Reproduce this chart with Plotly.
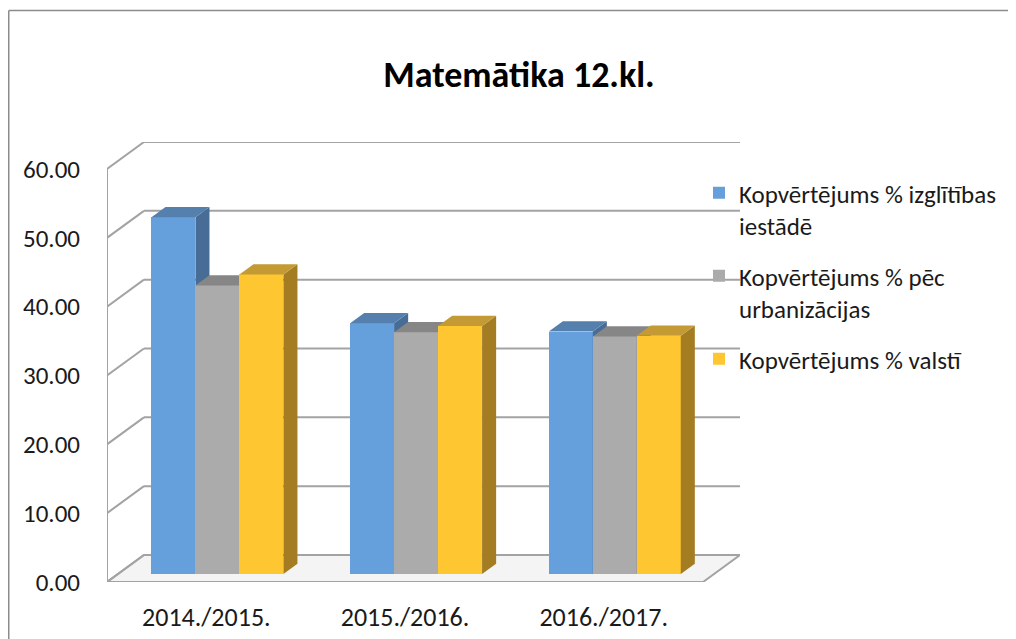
import plotly.graph_objects as go

# ---------------- data ----------------
categories = ["2014./2015.", "2015./2016.", "2016./2017."]
series_names = [
    "Kopvērtējums % izglītības<br>iestādē",
    "Kopvērtējums % pēc<br>urbanizācijas",
    "Kopvērtējums % valstī",
]
school = [51.8, 36.4, 35.2]
urban = [41.9, 35.1, 34.5]
country = [43.5, 36.0, 34.6]
y_ticks = [0, 10, 20, 30, 40, 50, 60]
title_text = "Matemātika 12.kl."

series_values = [school, urban, country]

# ---------------- styling / geometry ----------------
OFF = 8                       # page body margin
W, H = 1016 - OFF, 639 - OFF
ML, MT = 107 - OFF, 142 - OFF
PR, PB = 740 - OFF, 582 - OFF  # plot right / bottom in figure px
MR, MB = W - PR, H - PB
DX, DY = 0.186, 3.92          # full depth of the 3D box, in axis units
F0, F1 = 0.30, 0.38           # bar front-plane depth fraction, bar thickness fraction
BW = 0.2214                   # bar width (category units)
FONT = "Calibri, Carlito, Lato, sans-serif"
GRID = "#a3a3a3"

front_cols = ["#66a0dc", "#ababab", "#fec631"]
side_cols = ["#476d97", "#7b7b7b", "#a47c22"]
top_cols = ["#5580ae", "#868686", "#c49a35"]

n = len(categories)
x0, x1 = -0.5, n - 0.5
ymax = y_ticks[-1]
xr = [x0, x1 + DX]
yr = [0, ymax + DY]

fig = go.Figure()

# floor
fig.add_trace(go.Scatter(
    x=[x0, x1, x1 + DX, x0 + DX, x0], y=[0, 0, DY, DY, 0],
    mode="lines", fill="toself", fillcolor="#f4f4f4",
    line=dict(color=GRID, width=2), hoverinfo="skip", showlegend=False,
    xaxis="x", yaxis="y"))

# back wall gridlines + left wall gridlines + left front edge
gx, gy = [], []
for v in y_ticks:
    gx += [x0 + DX, x1 + DX, None]
    gy += [v + DY, v + DY, None]
    gx += [x0, x0 + DX, None]
    gy += [v, v + DY, None]
gx += [x0, x0]
gy += [0, ymax]
fig.add_trace(go.Scatter(
    x=gx, y=gy, mode="lines", line=dict(color=GRID, width=2),
    hoverinfo="skip", showlegend=False, xaxis="x", yaxis="y"))

# bars: each series on its own overlaid subplot so drawing order is left-to-right
shift_x = F0 * DX
base_y = F0 * DY
ddx, ddy = F1 * DX, F1 * DY
for k, (name, vals) in enumerate(zip(series_names, series_values)):
    ax = f"x{k + 2}"
    ay = f"y{k + 2}"
    xs = [i + shift_x + (k - 1) * BW for i in range(n)]
    fig.add_trace(go.Bar(
        x=xs, y=vals, base=[base_y] * n, width=BW, name=name,
        marker=dict(color=front_cols[k], line=dict(width=0)),
        legendgroup=f"g{k}", xaxis=ax, yaxis=ay,
        customdata=categories,
        hovertemplate="%{customdata}: %{y:.2f}<extra></extra>"))
    sx, sy, tx, ty = [], [], [], []
    for xc, v in zip(xs, vals):
        xl, xrr = xc - BW / 2, xc + BW / 2
        yt = base_y + v
        sx += [xrr, xrr + ddx, xrr + ddx, xrr, xrr, None]
        sy += [base_y, base_y + ddy, yt + ddy, yt, base_y, None]
        tx += [xl, xl + ddx, xrr + ddx, xrr, xl, None]
        ty += [yt, yt + ddy, yt + ddy, yt, yt, None]
    fig.add_trace(go.Scatter(
        x=sx, y=sy, mode="lines", fill="toself", fillcolor=side_cols[k],
        line=dict(width=0, color=side_cols[k]), hoverinfo="skip",
        showlegend=False, xaxis=ax, yaxis=ay))
    fig.add_trace(go.Scatter(
        x=tx, y=ty, mode="lines", fill="toself", fillcolor=top_cols[k],
        line=dict(width=0, color=top_cols[k]), hoverinfo="skip",
        showlegend=False, xaxis=ax, yaxis=ay))

layout = dict(
    width=W, height=H,
    margin=dict(l=ML, r=MR, t=MT, b=MB, autoexpand=False),
    paper_bgcolor="white", plot_bgcolor="rgba(0,0,0,0)",
    font=dict(family=FONT, size=25, color="#1a1a1a"),
    title=dict(text=title_text, x=(519 - OFF) / W, y=1 - (74 - OFF) / H,
               xref="container", yref="container", xanchor="center",
               yanchor="middle",
               font=dict(family=FONT, size=36, color="#000000", weight=700)),
    showlegend=True,
    legend=dict(xref="container", yref="container", x=(699 - OFF) / W,
                y=1 - (170 - OFF) / H, xanchor="left", yanchor="top",
                valign="top",
                font=dict(family=FONT, size=25, color="#1a1a1a"),
                tracegroupgap=15, bgcolor="rgba(0,0,0,0)"),
    xaxis=dict(range=xr, showgrid=False, zeroline=False, showline=False,
               tickvals=list(range(n)), ticktext=categories, ticks="",
               tickfont=dict(size=26),
               ticklabelstandoff=17, fixedrange=True),
    yaxis=dict(range=yr, showgrid=False, zeroline=False, showline=False,
               tickvals=y_ticks, ticktext=[f"{v:.2f}" for v in y_ticks],
               ticks="", ticklabelstandoff=26, fixedrange=True),
    bargap=0, hovermode="closest",
)
for k in range(len(series_values)):
    layout[f"xaxis{k + 2}"] = dict(range=xr, overlaying="x", visible=False, fixedrange=True)
    layout[f"yaxis{k + 2}"] = dict(range=yr, overlaying="y", visible=False, fixedrange=True)

# chart border (top and left edges visible in the reference)
px = lambda v: (v - ML) / (W - ML - MR)
py = lambda v: (H - MB - v) / (H - MT - MB)
layout["shapes"] = [
    dict(type="line", xref="paper", yref="paper", x0=px(0.75), y0=py(10.5 - OFF),
         x1=px(W + 5), y1=py(10.5 - OFF), line=dict(color="#8c8c8c", width=1.5)),
    dict(type="line", xref="paper", yref="paper", x0=px(0.75), y0=py(10.5 - OFF),
         x1=px(0.75), y1=py(H + 5), line=dict(color="#8c8c8c", width=1.5)),
]
fig.update_layout(**layout)

fig.write_html("out.html")
